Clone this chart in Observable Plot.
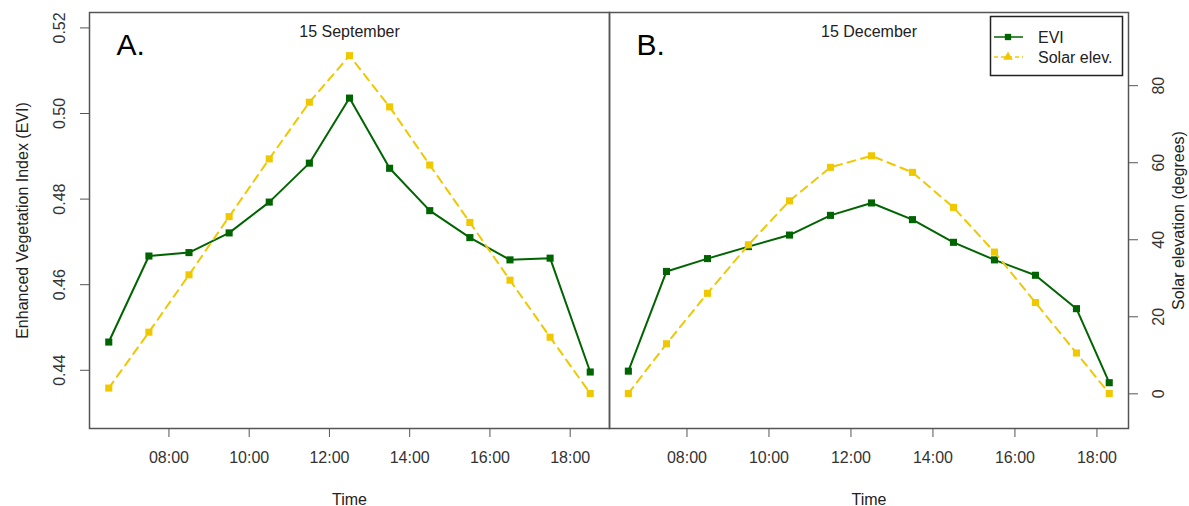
<!DOCTYPE html>
<html><head><meta charset="utf-8">
<script src="https://cdn.jsdelivr.net/npm/d3@7"></script>
<script src="https://cdn.jsdelivr.net/npm/@observablehq/plot@0.6"></script>
<style>
body{margin:0;background:#fff;}
#chart{position:relative;width:1189px;height:506px;font-family:"Liberation Sans",Arial,sans-serif;}
#chart svg{position:absolute;top:0;overflow:visible;}
</style></head><body><div id="chart"></div>
<script>
// ---- data ----
const hoursSep = [6.5, 7.5, 8.5, 9.5, 10.5, 11.5, 12.5, 13.5, 14.5, 15.5, 16.5, 17.5, 18.5];
const eviSep = [0.4466, 0.4667, 0.4675, 0.4721, 0.4793, 0.4884, 0.5036, 0.4872, 0.4773, 0.4710, 0.4658, 0.4662, 0.4396];
const solarSep = [1.5, 16.0, 30.9, 46.0, 61.0, 75.7, 87.8, 74.5, 59.4, 44.5, 29.5, 14.7, 0.1];
const hoursDec = [6.57, 7.5, 8.5, 9.5, 10.5, 11.5, 12.5, 13.5, 14.5, 15.5, 16.5, 17.5, 18.3];
const eviDec = [0.4398, 0.4631, 0.4661, 0.4689, 0.4716, 0.4762, 0.4791, 0.4752, 0.4699, 0.4658, 0.4622, 0.4544, 0.4371];
const solarDec = [0.1, 13.0, 26.1, 38.7, 50.1, 58.8, 61.8, 57.5, 48.4, 36.8, 23.7, 10.6, 0.1];
const panelTitles = ["15 September", "15 December"];
const panelLetters = ["A.", "B."];
const xTicks = [8, 10, 12, 14, 16, 18];
const xTickLabels = ["08:00", "10:00", "12:00", "14:00", "16:00", "18:00"];
const eviTicks = [0.44, 0.46, 0.48, 0.50, 0.52];
const eviTickLabels = ["0.44", "0.46", "0.48", "0.50", "0.52"];
const solarTicks = [0, 20, 40, 60, 80];
const solarTickLabels = ["0", "20", "40", "60", "80"];
const legendLabels = ["EVI", "Solar elev."];
const axisTitles = {x: "Time", yLeft: "Enhanced Vegetation Index (EVI)", yRight: "Solar elevation (degrees)"};

const GREEN = "#006400", GOLD = "#f0c800", FONT = "'Liberation Sans', Arial, sans-serif";
const H = 506, MT = 12, MB = 78;
const eviDomain = [0.4264, 0.5236], solarDomain = [-9, 99];
const chart = document.getElementById("chart");

function rows(h, v) { return h.map((t, i) => ({t, v: v[i]})); }

function panel({left, width, mL, mR, hours, evi, solar, xDomain, title, letter, leftAxis, rightAxis}) {
  const style = {fontFamily: FONT, fontSize: "16px", color: "#333", background: "transparent"};
  const eviData = rows(hours, evi), solData = rows(hours, solar);
  const base = Plot.plot({
    width, height: H, marginLeft: mL, marginRight: mR, marginTop: MT, marginBottom: MB,
    style,
    x: {domain: xDomain},
    y: {domain: eviDomain, axis: leftAxis ? undefined : null},
    marks: [
      Plot.frame({stroke: "#555", strokeWidth: 1.5}),
      Plot.axisX({ticks: xTicks, tickFormat: d => xTickLabels[xTicks.indexOf(d)], tickSize: 9, tickPadding: 14, label: null, stroke: "#555"}),
      leftAxis ? Plot.axisY({ticks: eviTicks, tickFormat: d => eviTickLabels[eviTicks.indexOf(d)], tickSize: 9, tickPadding: 16, tickRotate: -90, label: null, stroke: "#555"}) : null,
      Plot.line(eviData, {x: "t", y: "v", stroke: GREEN, strokeWidth: 2}),
      Plot.dot(eviData, {x: "t", y: "v", symbol: "square", r: 4, fill: GREEN}),
      Plot.text([title], {frameAnchor: "top", dy: 19, lineAnchor: "middle", fontSize: 16, fill: "#222"}),
      Plot.text([letter], {frameAnchor: "top-left", dx: 27, dy: 33, textAnchor: "start", lineAnchor: "middle", fontSize: 30, fill: "#000"}),
      Plot.text([axisTitles.x], {frameAnchor: "bottom", dy: 71, lineAnchor: "middle", fontSize: 16, fill: "#222"}),
      leftAxis ? Plot.text([axisTitles.yLeft], {frameAnchor: "left", dx: -67, rotate: -90, textAnchor: "middle", lineAnchor: "middle", fontSize: 16, fill: "#222"}) : null
    ]
  });
  base.style.left = left + "px";
  chart.appendChild(base);
  const over = Plot.plot({
    width, height: H, marginLeft: mL, marginRight: mR, marginTop: MT, marginBottom: MB,
    style,
    x: {domain: xDomain, axis: null},
    y: {domain: solarDomain, axis: rightAxis ? undefined : null},
    marks: [
      rightAxis ? Plot.axisY({anchor: "right", ticks: solarTicks, tickFormat: d => solarTickLabels[solarTicks.indexOf(d)], tickSize: 9, tickPadding: 15, tickRotate: -90, lineAnchor: "top", label: null, stroke: "#555"}) : null,
      Plot.line(solData, {x: "t", y: "v", stroke: GOLD, strokeWidth: 2, strokeDasharray: "8,6"}),
      Plot.dot(solData, {x: "t", y: "v", symbol: "square", r: 4, fill: GOLD}),
      rightAxis ? Plot.text([axisTitles.yRight], {frameAnchor: "right", dx: 50, rotate: -90, textAnchor: "middle", lineAnchor: "middle", fontSize: 16, fill: "#222"}) : null
    ]
  });
  over.style.left = left + "px";
  chart.appendChild(over);
}

panel({left: 0, width: 609, mL: 89, mR: 0, hours: hoursSep, evi: eviSep, solar: solarSep,
  xDomain: [6.02, 18.98], title: panelTitles[0], letter: panelLetters[0], leftAxis: true, rightAxis: false});
panel({left: 609, width: 580, mL: 0, mR: 61, hours: hoursDec, evi: eviDec, solar: solarDec,
  xDomain: [6.11, 18.77], title: panelTitles[1], letter: panelLetters[1], leftAxis: false, rightAxis: true});

// ---- legend ----
const lg = d3.select(chart).append("svg").attr("width", 1189).attr("height", H)
  .style("left", "0px").style("pointer-events", "none").style("font-family", FONT);
lg.append("rect").attr("x", 990.5).attr("y", 16.5).attr("width", 132).attr("height", 59)
  .attr("fill", "#fff").attr("stroke", "#222").attr("stroke-width", 1.5);
const items = [
  {label: legendLabels[0], color: GREEN, dash: null, sym: d3.symbolSquare, y: 37},
  {label: legendLabels[1], color: GOLD, dash: "4,3", sym: d3.symbolTriangle, y: 57}
];
items.forEach(it => {
  lg.append("line").attr("x1", 994).attr("x2", 1023).attr("y1", it.y).attr("y2", it.y)
    .attr("stroke", it.color).attr("stroke-width", 1.5).attr("stroke-dasharray", it.dash);
  lg.append("path").attr("d", d3.symbol(it.sym, 40)()).attr("transform", `translate(1008,${it.y})`).attr("fill", it.color);
  lg.append("text").attr("x", 1038).attr("y", it.y).attr("dy", "0.35em").attr("font-size", 16).attr("fill", "#222").text(it.label);
});
</script></body></html>
